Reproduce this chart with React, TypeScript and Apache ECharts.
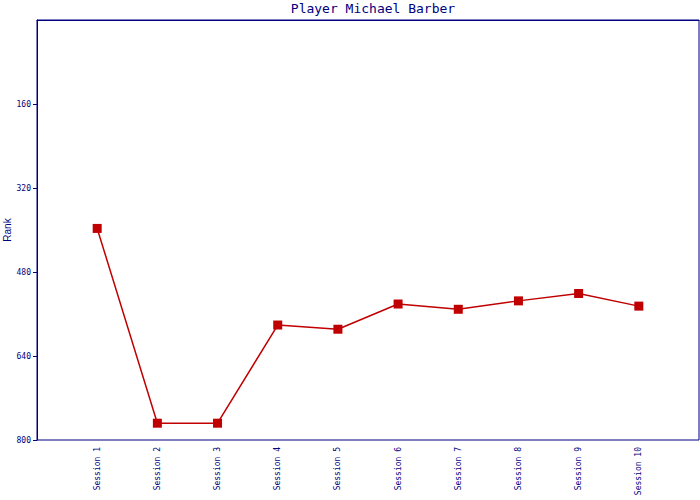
import React, { useEffect, useRef } from "react";
import * as echarts from "echarts";

const title = "Player Michael Barber";
const sessions = ["Session 1", "Session 2", "Session 3", "Session 4", "Session 5", "Session 6", "Session 7", "Session 8", "Session 9", "Session 10"];
const ranks = [397, 768, 768, 581, 589, 541, 551, 535, 521, 545];
const yTicks = [160, 320, 480, 640, 800];

const NAVY = "#000080";
const RED = "#c00000";
const MONO = "DejaVu Sans Mono";

export default function App() {
  const ref = useRef<HTMLDivElement>(null);
  useEffect(() => {
    if (!ref.current) return;
    const chart = echarts.init(ref.current, null, { renderer: "svg" });
    const cats = ["", ...sessions, ""];
    const data = ["-", ...ranks, "-"];
    chart.setOption({
      animation: false,
      backgroundColor: "#ffffff",
      title: {
        text: title,
        left: 368,
        textAlign: "center",
        top: -3,
        textStyle: { fontFamily: MONO, fontSize: 13, fontWeight: "normal", color: NAVY },
      },
      grid: {
        left: 37,
        right: 1,
        top: 20,
        bottom: 60,
        containLabel: false,
        outerBoundsMode: "none",
        show: true,
        borderColor: NAVY,
        borderWidth: 1,
      },
      xAxis: {
        type: "category",
        data: cats,
        boundaryGap: false,
        axisLine: { lineStyle: { color: NAVY, width: 1 } },
        axisTick: { show: false },
        splitLine: { show: false },
        axisLabel: {
          interval: 0,
          rotate: 90,
          margin: 7,
          fontFamily: MONO,
          fontSize: 8,
          color: NAVY,
        },
      },
      yAxis: {
        type: "value",
        inverse: true,
        min: 0,
        max: 800,
        interval: 160,
        name: "Rank",
        nameLocation: "middle",
        nameGap: 25,
        nameRotate: 90,
        nameMoveOverlap: false,
        nameTextStyle: { fontFamily: "Liberation Sans", fontSize: 10, color: NAVY },
        axisLine: { show: true, lineStyle: { color: NAVY, width: 1 } },
        axisTick: { show: true, length: 4, lineStyle: { color: NAVY }, customValues: yTicks },
        splitLine: { show: false },
        axisLabel: {
          margin: 6,
          fontFamily: MONO,
          fontSize: 8,
          color: NAVY,
          customValues: yTicks,
        },
      },
      series: [
        {
          type: "line",
          data,
          connectNulls: false,
          symbol: "rect",
          symbolSize: 9,
          showAllSymbol: true,
          itemStyle: { color: RED },
          lineStyle: { color: RED, width: 1.5 },
        },
      ],
    });
    return () => chart.dispose();
  }, []);
  return <div ref={ref} style={{ position: "fixed", left: 0, top: 0, width: 700, height: 500 }} />;
}
